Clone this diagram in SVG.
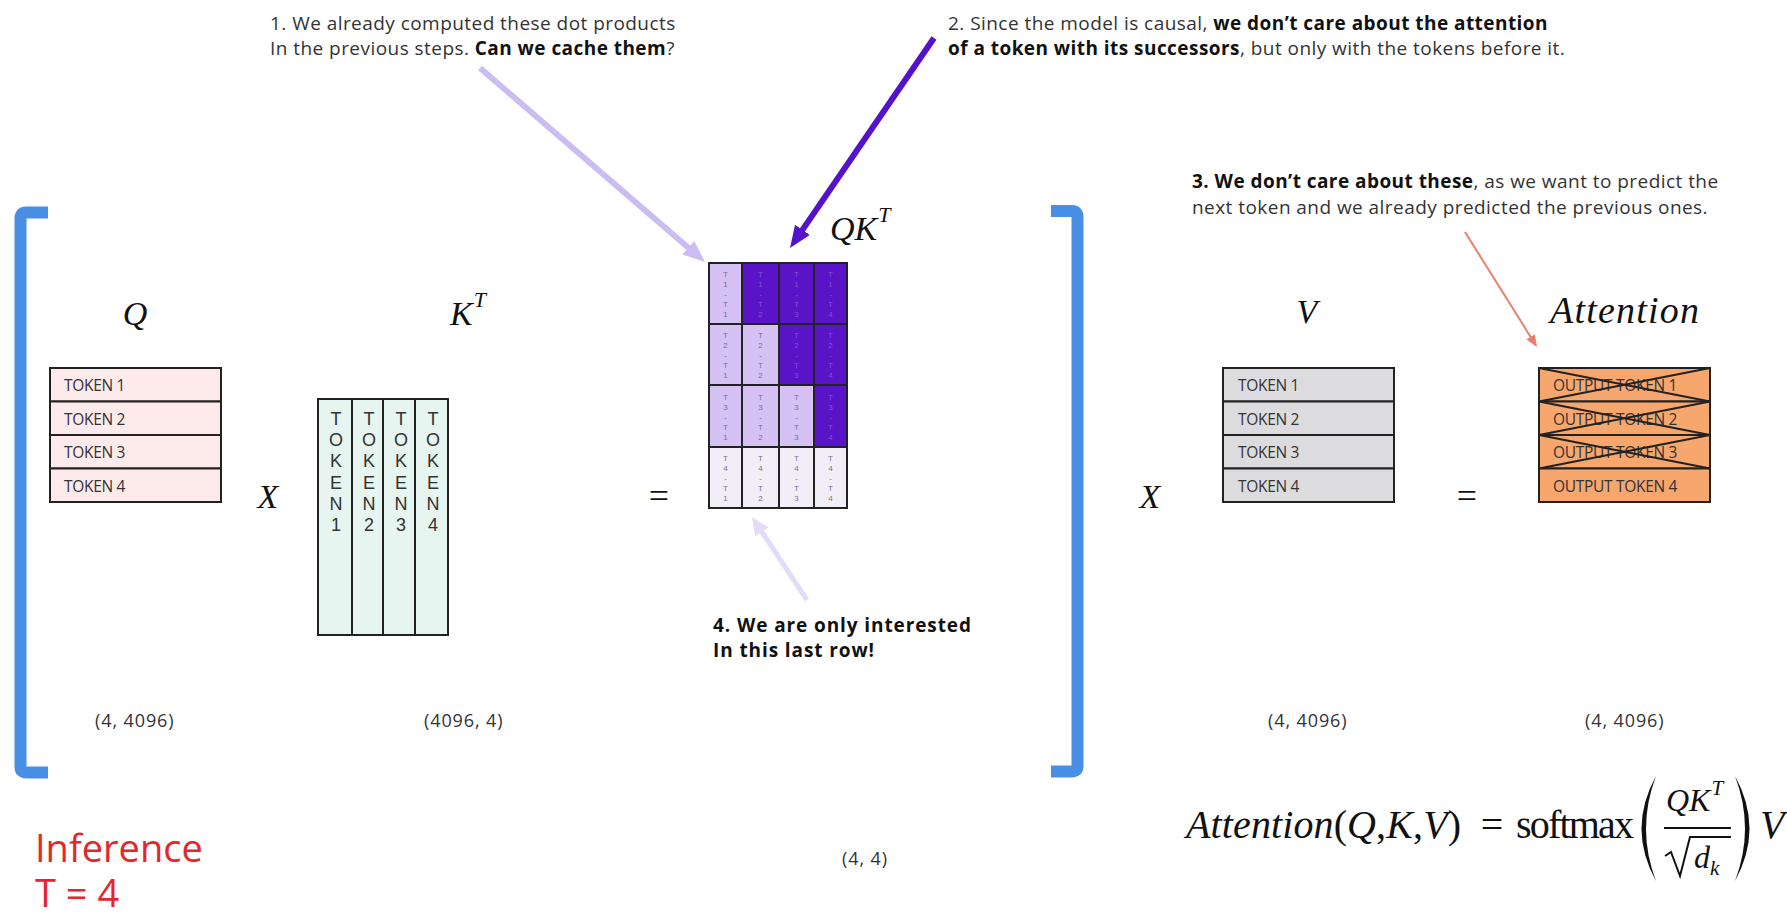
<svg xmlns="http://www.w3.org/2000/svg" width="1787" height="913" viewBox="0 0 1787 913">
<style>
.txt{font-family:"Open Sans","Liberation Sans",sans-serif;fill:#333;}
.note{font-family:"Open Sans","Liberation Sans",sans-serif;font-size:19px;fill:#333;letter-spacing:0.45px;}
.b{font-weight:bold;fill:#111;}
.tok{font-family:"Open Sans","Liberation Sans",sans-serif;font-size:15.5px;fill:#333;letter-spacing:-0.3px;}
.vt{font-family:"Liberation Sans",Arial,sans-serif;font-size:18px;fill:#333;text-anchor:middle;}
.math{font-family:"Liberation Serif","DejaVu Serif",serif;font-style:italic;fill:#111;}
.up{font-family:"Liberation Serif","DejaVu Serif",serif;fill:#111;}
.cell{stroke:#222;stroke-width:2;}
.ct{font-family:"Liberation Sans",Arial,sans-serif;font-size:8px;text-anchor:middle;}
.dim{font-family:"Open Sans","Liberation Sans",sans-serif;font-size:18px;fill:#333;letter-spacing:0.9px;}
.brk{fill:none;stroke:#4a8fe6;stroke-width:12;}
.red{font-family:"Open Sans","Liberation Sans",sans-serif;font-size:38px;fill:#e5262b;}
</style>
<defs>
<marker id="mLight" markerUnits="userSpaceOnUse" markerWidth="24" markerHeight="20" refX="10" refY="9" orient="auto"><path d="M0,0 L22,9 L0,18 z" fill="#cbbdf1"/></marker>
<marker id="mDark" markerUnits="userSpaceOnUse" markerWidth="24" markerHeight="20" refX="10" refY="9" orient="auto"><path d="M0,0 L22,9 L0,18 z" fill="#5512cc"/></marker>
<marker id="mPale" markerUnits="userSpaceOnUse" markerWidth="20" markerHeight="18" refX="8" refY="8" orient="auto"><path d="M0,0 L18,8 L0,16 z" fill="#e3dbf7"/></marker>
<marker id="mRed" markerUnits="userSpaceOnUse" markerWidth="14" markerHeight="12" refX="10" refY="5" orient="auto"><path d="M0,0 L12,5 L0,10 z" fill="#e8806e"/></marker>
</defs>
<rect width="1787" height="913" fill="#fff"/>

<!-- brackets -->
<g id="bracket-left"><path class="brk" d="M48,212.5 L26,212.5 Q20.5,212.5 20.5,218 L20.5,767 Q20.5,772.5 26,772.5 L48,772.5"/></g>
<g id="bracket-right"><path class="brk" d="M1051,211 L1072,211 Q1077.5,211 1077.5,216.5 L1077.5,766 Q1077.5,771.5 1072,771.5 L1051,771.5"/></g>

<!-- Q -->
<g id="q">
<text class="math" x="135" y="325" font-size="34" text-anchor="middle">Q</text>
<rect class="cell" x="50" y="368" width="171" height="33.5" fill="#fdeaea"/>
<rect class="cell" x="50" y="401.5" width="171" height="33.5" fill="#fdeaea"/>
<rect class="cell" x="50" y="435" width="171" height="33.5" fill="#fdeaea"/>
<rect class="cell" x="50" y="468.5" width="171" height="33.5" fill="#fdeaea"/>
<text class="tok" x="64" y="391">TOKEN 1</text>
<text class="tok" x="64" y="424.5">TOKEN 2</text>
<text class="tok" x="64" y="458">TOKEN 3</text>
<text class="tok" x="64" y="491.5">TOKEN 4</text>
<text class="dim" x="95" y="727">(4, 4096)</text>
</g>

<g id="op-x1"><text class="math" x="268" y="508" font-size="34" text-anchor="middle">X</text></g>

<!-- K^T -->
<g id="kt">
<text class="math" x="450" y="325" font-size="34">K<tspan font-size="22" dy="-18" dx="1">T</tspan></text>
<rect class="cell" x="318" y="399" width="34" height="236" fill="#e6f5f0"/>
<rect class="cell" x="352" y="399" width="31" height="236" fill="#e6f5f0"/>
<rect class="cell" x="383" y="399" width="32" height="236" fill="#e6f5f0"/>
<rect class="cell" x="415" y="399" width="33" height="236" fill="#e6f5f0"/>
<g class="vt">
<text x="336" y="425">T</text><text x="336" y="446">O</text><text x="336" y="467">K</text><text x="336" y="489">E</text><text x="336" y="510">N</text><text x="336" y="531">1</text>
<text x="369" y="425">T</text><text x="369" y="446">O</text><text x="369" y="467">K</text><text x="369" y="489">E</text><text x="369" y="510">N</text><text x="369" y="531">2</text>
<text x="401" y="425">T</text><text x="401" y="446">O</text><text x="401" y="467">K</text><text x="401" y="489">E</text><text x="401" y="510">N</text><text x="401" y="531">3</text>
<text x="433" y="425">T</text><text x="433" y="446">O</text><text x="433" y="467">K</text><text x="433" y="489">E</text><text x="433" y="510">N</text><text x="433" y="531">4</text>
</g>
<text class="dim" x="424" y="727">(4096, 4)</text>
</g>

<g id="op-eq1"><text class="up" x="659" y="508" font-size="36" text-anchor="middle">=</text></g>

<!-- QK^T -->
<g id="qkt">
<text class="math" x="830" y="240" font-size="34">QK<tspan font-size="22" dy="-18" dx="1">T</tspan></text>
<rect class="cell" x="709" y="263" width="33" height="61" fill="#d5c1f3"/>
<rect class="cell" x="742" y="263" width="37" height="61" fill="#5a14c8"/>
<rect class="cell" x="779" y="263" width="35" height="61" fill="#5a14c8"/>
<rect class="cell" x="814" y="263" width="33" height="61" fill="#5a14c8"/>
<rect class="cell" x="709" y="324" width="33" height="61" fill="#d5c1f3"/>
<rect class="cell" x="742" y="324" width="37" height="61" fill="#d5c1f3"/>
<rect class="cell" x="779" y="324" width="35" height="61" fill="#5a14c8"/>
<rect class="cell" x="814" y="324" width="33" height="61" fill="#5a14c8"/>
<rect class="cell" x="709" y="385" width="33" height="62" fill="#d5c1f3"/>
<rect class="cell" x="742" y="385" width="37" height="62" fill="#d5c1f3"/>
<rect class="cell" x="779" y="385" width="35" height="62" fill="#d5c1f3"/>
<rect class="cell" x="814" y="385" width="33" height="62" fill="#5a14c8"/>
<rect class="cell" x="709" y="447" width="33" height="61" fill="#f1eef8"/>
<rect class="cell" x="742" y="447" width="37" height="61" fill="#f1eef8"/>
<rect class="cell" x="779" y="447" width="35" height="61" fill="#f1eef8"/>
<rect class="cell" x="814" y="447" width="33" height="61" fill="#f1eef8"/>
<g class="ct" fill="#7d6f92">
<text x="725.5" y="277">T<tspan x="725.5" dy="10">1</tspan><tspan x="725.5" dy="10">-</tspan><tspan x="725.5" dy="10">T</tspan><tspan x="725.5" dy="10">1</tspan></text>
<text x="725.5" y="338">T<tspan x="725.5" dy="10">2</tspan><tspan x="725.5" dy="10">-</tspan><tspan x="725.5" dy="10">T</tspan><tspan x="725.5" dy="10">1</tspan></text>
<text x="760.5" y="338">T<tspan x="760.5" dy="10">2</tspan><tspan x="760.5" dy="10">-</tspan><tspan x="760.5" dy="10">T</tspan><tspan x="760.5" dy="10">2</tspan></text>
<text x="725.5" y="400">T<tspan x="725.5" dy="10">3</tspan><tspan x="725.5" dy="10">-</tspan><tspan x="725.5" dy="10">T</tspan><tspan x="725.5" dy="10">1</tspan></text>
<text x="760.5" y="400">T<tspan x="760.5" dy="10">3</tspan><tspan x="760.5" dy="10">-</tspan><tspan x="760.5" dy="10">T</tspan><tspan x="760.5" dy="10">2</tspan></text>
<text x="796.5" y="400">T<tspan x="796.5" dy="10">3</tspan><tspan x="796.5" dy="10">-</tspan><tspan x="796.5" dy="10">T</tspan><tspan x="796.5" dy="10">3</tspan></text>
<text x="725.5" y="461">T<tspan x="725.5" dy="10">4</tspan><tspan x="725.5" dy="10">-</tspan><tspan x="725.5" dy="10">T</tspan><tspan x="725.5" dy="10">1</tspan></text>
<text x="760.5" y="461">T<tspan x="760.5" dy="10">4</tspan><tspan x="760.5" dy="10">-</tspan><tspan x="760.5" dy="10">T</tspan><tspan x="760.5" dy="10">2</tspan></text>
<text x="796.5" y="461">T<tspan x="796.5" dy="10">4</tspan><tspan x="796.5" dy="10">-</tspan><tspan x="796.5" dy="10">T</tspan><tspan x="796.5" dy="10">3</tspan></text>
<text x="830.5" y="461">T<tspan x="830.5" dy="10">4</tspan><tspan x="830.5" dy="10">-</tspan><tspan x="830.5" dy="10">T</tspan><tspan x="830.5" dy="10">4</tspan></text>
</g>
<g class="ct" fill="#7f4fd6">
<text x="760.5" y="277">T<tspan x="760.5" dy="10">1</tspan><tspan x="760.5" dy="10">-</tspan><tspan x="760.5" dy="10">T</tspan><tspan x="760.5" dy="10">2</tspan></text>
<text x="796.5" y="277">T<tspan x="796.5" dy="10">1</tspan><tspan x="796.5" dy="10">-</tspan><tspan x="796.5" dy="10">T</tspan><tspan x="796.5" dy="10">3</tspan></text>
<text x="830.5" y="277">T<tspan x="830.5" dy="10">1</tspan><tspan x="830.5" dy="10">-</tspan><tspan x="830.5" dy="10">T</tspan><tspan x="830.5" dy="10">4</tspan></text>
<text x="796.5" y="338">T<tspan x="796.5" dy="10">2</tspan><tspan x="796.5" dy="10">-</tspan><tspan x="796.5" dy="10">T</tspan><tspan x="796.5" dy="10">3</tspan></text>
<text x="830.5" y="338">T<tspan x="830.5" dy="10">2</tspan><tspan x="830.5" dy="10">-</tspan><tspan x="830.5" dy="10">T</tspan><tspan x="830.5" dy="10">4</tspan></text>
<text x="830.5" y="400">T<tspan x="830.5" dy="10">3</tspan><tspan x="830.5" dy="10">-</tspan><tspan x="830.5" dy="10">T</tspan><tspan x="830.5" dy="10">4</tspan></text>
</g>
<text class="dim" x="842" y="865">(4, 4)</text>
</g>

<g id="op-x2"><text class="math" x="1150" y="508" font-size="34" text-anchor="middle">X</text></g>

<!-- V -->
<g id="v">
<text class="math" x="1307" y="323" font-size="34" text-anchor="middle">V</text>
<rect class="cell" x="1223" y="368" width="171" height="33.5" fill="#dcdcdf"/>
<rect class="cell" x="1223" y="401.5" width="171" height="33.5" fill="#dcdcdf"/>
<rect class="cell" x="1223" y="435" width="171" height="33.5" fill="#dcdcdf"/>
<rect class="cell" x="1223" y="468.5" width="171" height="33.5" fill="#dcdcdf"/>
<text class="tok" x="1238" y="391">TOKEN 1</text>
<text class="tok" x="1238" y="424.5">TOKEN 2</text>
<text class="tok" x="1238" y="458">TOKEN 3</text>
<text class="tok" x="1238" y="491.5">TOKEN 4</text>
<text class="dim" x="1268" y="727">(4, 4096)</text>
</g>

<g id="op-eq2"><text class="up" x="1467" y="508" font-size="36" text-anchor="middle">=</text></g>

<!-- Attention -->
<g id="attention">
<text class="math" x="1550" y="323" font-size="38" textLength="149">Attention</text>
<rect class="cell" x="1539" y="368" width="171" height="33.5" fill="#f7a66d"/>
<rect class="cell" x="1539" y="401.5" width="171" height="33.5" fill="#f7a66d"/>
<rect class="cell" x="1539" y="435" width="171" height="33.5" fill="#f7a66d"/>
<rect class="cell" x="1539" y="468.5" width="171" height="33.5" fill="#f7a66d"/>
<text class="tok" x="1553" y="391">OUTPUT TOKEN 1</text>
<text class="tok" x="1553" y="424.5">OUTPUT TOKEN 2</text>
<text class="tok" x="1553" y="458">OUTPUT TOKEN 3</text>
<text class="tok" x="1553" y="491.5">OUTPUT TOKEN 4</text>
<g stroke="#222" stroke-width="1.8">
<line x1="1539" y1="368" x2="1710" y2="401.5"/><line x1="1539" y1="401.5" x2="1710" y2="368"/>
<line x1="1539" y1="401.5" x2="1710" y2="435"/><line x1="1539" y1="435" x2="1710" y2="401.5"/>
<line x1="1539" y1="435" x2="1710" y2="468.5"/><line x1="1539" y1="468.5" x2="1710" y2="435"/>
</g>
<text class="dim" x="1585" y="727">(4, 4096)</text>
</g>

<!-- notes -->
<g id="note1">
<text class="note" x="270" y="30">1. We already computed these dot products</text>
<text class="note" x="270" y="55">In the previous steps. <tspan class="b">Can we cache them</tspan>?</text>
</g>
<g id="note2">
<text class="note" x="948" y="30">2. Since the model is causal, <tspan class="b">we don’t care about the attention</tspan></text>
<text class="note" x="948" y="55"><tspan class="b">of a token with its successors</tspan>, but only with the tokens before it.</text>
</g>
<g id="note3">
<text class="note" x="1192" y="188"><tspan class="b">3. We don’t care about these</tspan>, as we want to predict the</text>
<text class="note" x="1192" y="214">next token and we already predicted the previous ones.</text>
</g>
<g id="note4">
<text class="note b" x="713" y="632" style="letter-spacing:0.9px">4. We are only interested</text>
<text class="note b" x="713" y="657" style="letter-spacing:0.9px">In this last row!</text>
</g>

<!-- connectors -->
<g id="connectors" fill="none">
<line x1="480" y1="68" x2="695.9" y2="254.2" stroke="#cbbdf1" stroke-width="6" marker-end="url(#mLight)"/>
<line x1="934" y1="38" x2="796.8" y2="238.1" stroke="#5512cc" stroke-width="6" marker-end="url(#mDark)"/>
<line x1="807" y1="600" x2="757.5" y2="525.3" stroke="#e3dbf7" stroke-width="5" marker-end="url(#mPale)"/>
<line x1="1465" y1="232" x2="1535.9" y2="345.3" stroke="#e8806e" stroke-width="2" marker-end="url(#mRed)"/>
</g>

<!-- formula -->
<g id="formula">
<text class="math" x="1186" y="838" font-size="40" textLength="275">Attention<tspan class="up" font-style="normal">(</tspan>Q<tspan class="up" font-style="normal">,</tspan>K<tspan class="up" font-style="normal">,</tspan>V<tspan class="up" font-style="normal">)</tspan></text>
<text class="up" x="1492" y="838" font-size="40" text-anchor="middle">=</text>
<text class="up" x="1516" y="838" font-size="40" textLength="118">softmax</text>
<path d="M1656,776 Q1627,828.5 1656,881 Q1636,828.5 1656,776 z" fill="#111"/>
<path d="M1735,776 Q1764,828.5 1735,881 Q1755,828.5 1735,776 z" fill="#111"/>
<text class="math" x="1666" y="811" font-size="32">QK<tspan font-size="21" dy="-16" dx="1">T</tspan></text>
<line x1="1664" y1="828" x2="1731" y2="828" stroke="#111" stroke-width="2"/>
<path d="M1665,856 L1671,852 L1680,876 L1690,837 L1731,837" fill="none" stroke="#111" stroke-width="2"/>
<text class="math" x="1694" y="868" font-size="32">d<tspan font-size="21" dy="7">k</tspan></text>
<text class="math" x="1760" y="838" font-size="40">V</text>
</g>

<g id="label-inference">
<text class="red" x="35" y="862">Inference</text>
<text class="red" x="35" y="907">T = 4</text>
</g>
</svg>
